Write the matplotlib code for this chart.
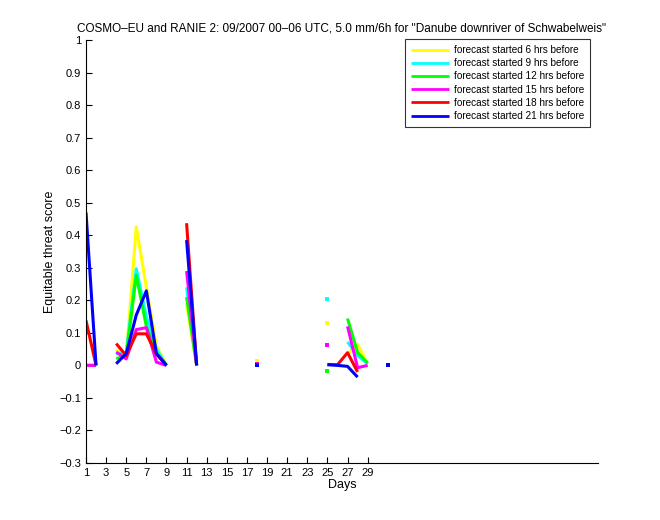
import numpy as np
import matplotlib
matplotlib.use("Agg")
import matplotlib.pyplot as plt

nan = np.nan
days = np.arange(1, 32)

def series(d):
    a = np.full(31, nan)
    for k, v in d.items():
        a[k - 1] = v
    return a

h6 = series({1: 0, 2: 0, 4: 0.048, 5: 0.025, 6: 0.426, 7: 0.24, 8: 0.06, 9: 0,
             11: 0.19, 12: 0, 18: 0.012, 25: 0.13, 27: 0.035, 28: 0.065, 29: 0.005})
h9 = series({1: 0, 2: 0, 4: 0.035, 5: 0.04, 6: 0.297, 7: 0.15, 8: 0.05, 9: 0,
             11: 0.24, 12: 0, 25: 0.203, 27: 0.072, 28: 0.03, 29: 0.005})
h12 = series({1: 0, 2: 0, 4: 0.021, 5: 0.03, 6: 0.277, 7: 0.12, 8: 0.04, 9: 0,
              11: 0.21, 12: 0, 25: -0.017, 27: 0.144, 28: 0.04, 29: 0.007})
h15 = series({1: 0, 2: 0, 4: 0.041, 5: 0.02, 6: 0.11, 7: 0.116, 8: 0.01, 9: 0,
              11: 0.29, 12: 0, 18: 0.005, 25: 0.062, 27: 0.12, 28: -0.007, 29: 0})
h18 = series({1: 0.138, 2: 0, 4: 0.067, 5: 0.03, 6: 0.097, 7: 0.097, 8: 0.035, 9: 0,
              11: 0.437, 12: 0, 25: 0.003, 26: 0.002, 27: 0.039, 28: -0.02})
h21 = series({1: 0.47, 2: 0, 4: 0.005, 5: 0.036, 6: 0.155, 7: 0.229, 8: 0.036, 9: 0,
              11: 0.385, 12: 0, 18: 0, 25: 0.002, 26: 0.0, 27: -0.003, 28: -0.036, 31: 0.001})

labels = ["forecast started 6 hrs before", "forecast started 9 hrs before",
          "forecast started 12 hrs before", "forecast started 15 hrs before",
          "forecast started 18 hrs before", "forecast started 21 hrs before"]
colors = ["#ffff00", "#00ffff", "#00ff00", "#ff00ff", "#ff0000", "#0000ff"]
all_series = [h6, h9, h12, h15, h18, h21]

xticks = list(range(1, 30, 2))
yticks = [round(v, 1) for v in np.arange(-0.3, 1.01, 0.1)]

plt.rcParams['font.family'] = ['Liberation Sans', 'DejaVu Sans']
plt.rcParams['axes.unicode_minus'] = True

fig = plt.figure(figsize=(6.6, 5.2), dpi=100)
ax = fig.add_axes([86/660, 1 - 463/520, (598 - 86)/660, (463 - 40)/520])

for s, c, lab in zip(all_series, colors, labels):
    ax.plot(days, s, color=c, lw=2.2, label=lab, solid_capstyle='butt')
    # isolated points (neighbours missing) shown as small dots
    iso = []
    for i in range(31):
        if np.isnan(s[i]):
            continue
        left = np.isnan(s[i - 1]) if i > 0 else True
        right = np.isnan(s[i + 1]) if i < 30 else True
        if left and right:
            iso.append(i)
    if iso:
        ax.plot(days[iso], s[iso], ls='none', marker='s', ms=2.6, color=c, mec=c, mew=0)

ax.set_xlim(1, 51.9)
ax.set_ylim(-0.3, 1)
ax.set_xticks(xticks)
ax.set_xticklabels([str(t) for t in xticks])
ax.set_yticks(yticks)
ax.set_yticklabels([("%g" % t).replace("-", "\u2212") if t != 0 else "0" for t in yticks])
ax.tick_params(direction='in', length=4, labelsize=8, width=0.8)
for sp in ['top', 'right']:
    ax.spines[sp].set_visible(False)
for sp in ['left', 'bottom']:
    ax.spines[sp].set_linewidth(0.8)

ax.set_xlabel("Days", fontsize=9, labelpad=1)
ax.set_ylabel("Equitable threat score", fontsize=9, labelpad=2)
ax.set_title('COSMO\u2013EU and RANIE 2: 09/2007 00\u201306 UTC, 5.0 mm/6h for "Danube downriver of Schwabelweis"',
             fontsize=8.5, pad=6)

leg = ax.legend(loc='upper right', bbox_to_anchor=(590/660, 1 - 39/520), bbox_transform=fig.transFigure,
                fontsize=7.2, frameon=True, fancybox=False, edgecolor='black', borderaxespad=0,
                handlelength=3.8, handletextpad=0.5, labelspacing=0.32, borderpad=0.6)
leg.get_frame().set_linewidth(0.8)
for l in leg.get_lines():
    l.set_linewidth(2)

fig.savefig("out.png", dpi=100)
